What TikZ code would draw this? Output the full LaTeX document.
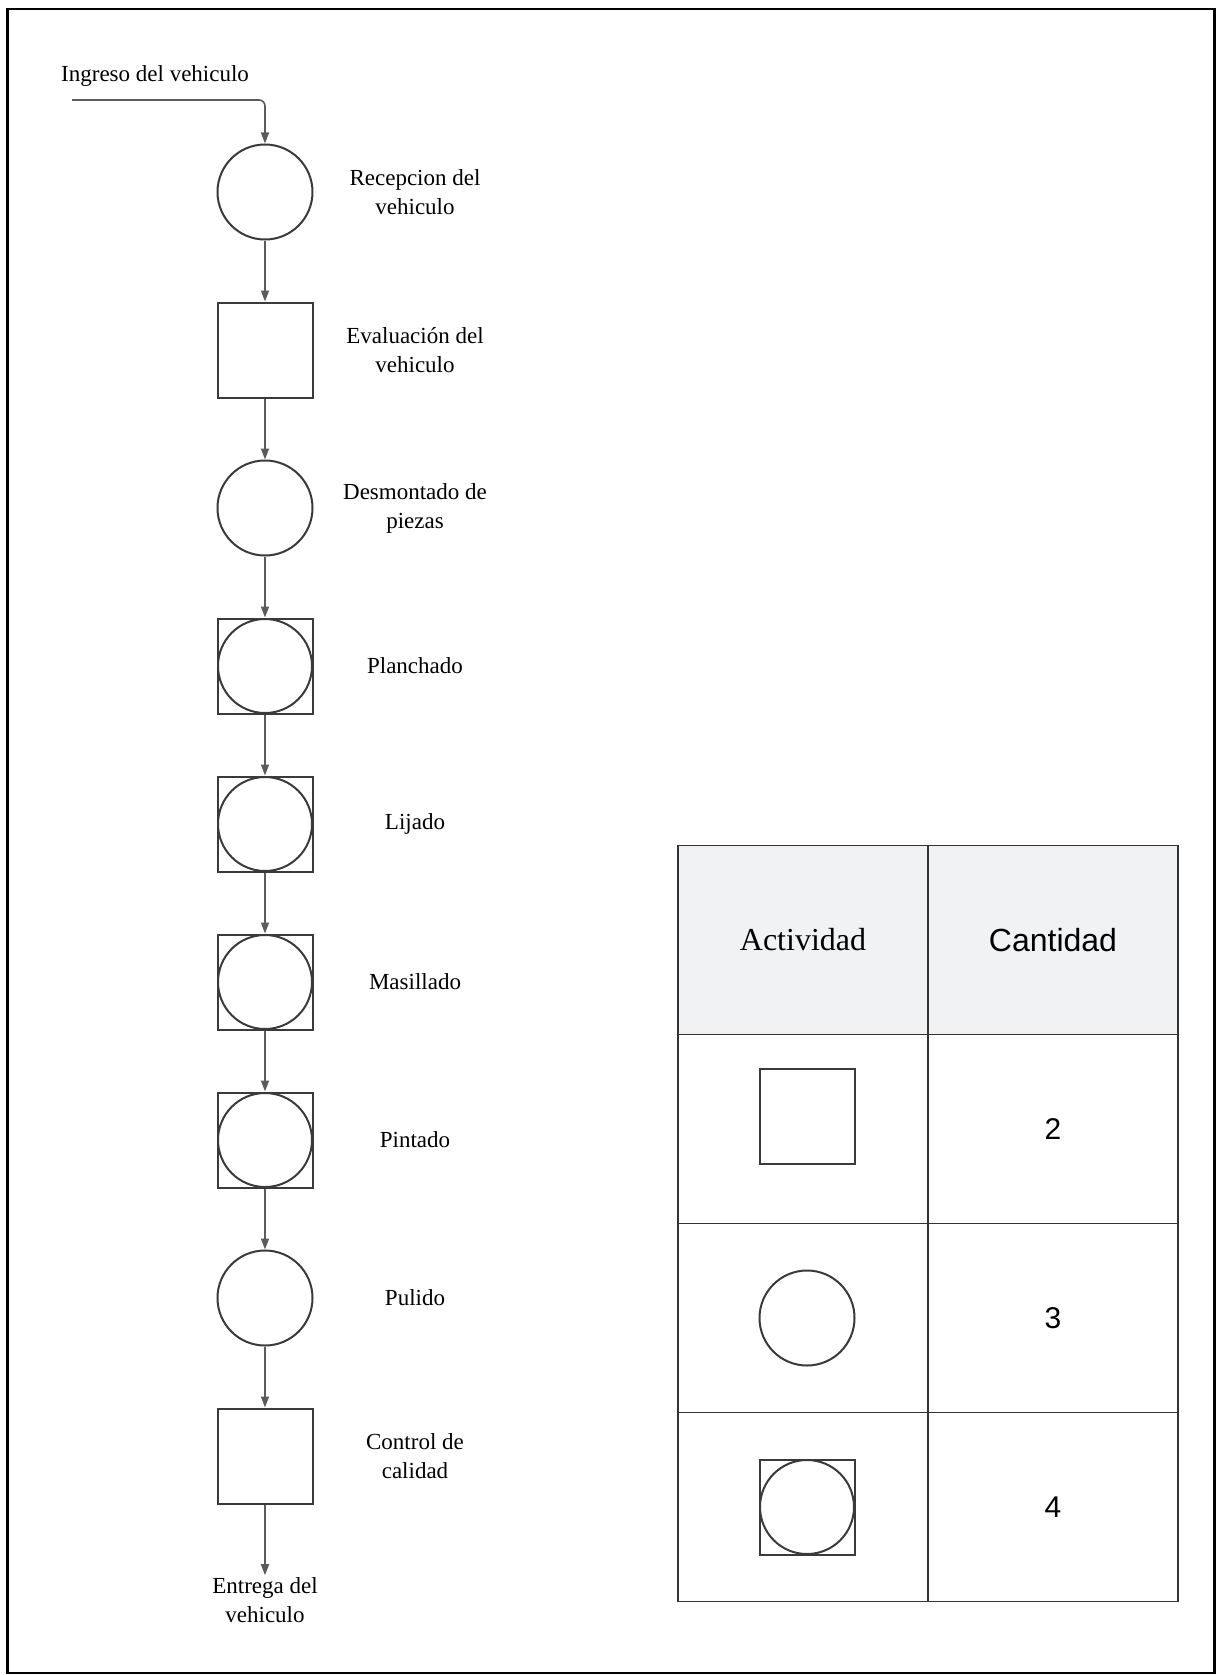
\documentclass[tikz,border=0pt]{standalone}
\usepackage{fontspec}
\setmainfont{Liberation Serif}
\newfontfamily\tablesans{Liberation Sans}
\usepackage{tikz}
\usetikzlibrary{arrows.meta, positioning}
\definecolor{flowgray}{HTML}{5B5B5B}
\definecolor{shapegray}{HTML}{3A3A3A}
\definecolor{headgray}{HTML}{F1F2F4}

\begin{document}
\begin{tikzpicture}[x=1pt, y=1pt, node distance=158pt,
    opcirc/.style={draw=shapegray, line width=2pt, circle, minimum size=95pt, inner sep=0pt},
    inspbox/.style={draw=shapegray, line width=2pt, rectangle, minimum size=95pt, inner sep=0pt},
    combbox/.style={inspbox, path picture={\draw[shapegray, line width=2pt] (path picture bounding box.center) circle (47pt);}},
    steplabel/.style={text centered, align=center, font=\fontsize{23}{29}\selectfont, inner sep=2pt},
    flow/.style={draw=flowgray, line width=1.6pt, -{Triangle[length=11pt, width=8pt]}},
    cell/.style={draw=black!80, line width=1.5pt, rectangle, minimum width=250pt, minimum height=189pt, inner sep=0pt, text centered},
    numtext/.style={font=\tablesans\fontsize{30}{36}\selectfont}]
    \useasboundingbox (0,0) rectangle (1217,-1675);
    \draw[line width=2.5pt] (7.5,-9) rectangle (1214.5,-1673);

    % entrada
    \node (ingreso) [anchor=base west, inner sep=0pt, font=\fontsize{23}{29}\selectfont] at (61,-82) {Ingreso del vehiculo};
    \coordinate (start) at (72,-100);

    % diagrama de proceso
    \node (recep) [opcirc] at (265,-192) {};
    \node (evalua) [inspbox, below of=recep] {};
    \node (desmon) [opcirc, below of=evalua] {};
    \node (planch) [combbox, below of=desmon] {};
    \node (lijado) [combbox, below of=planch] {};
    \node (masill) [combbox, below of=lijado] {};
    \node (pintado) [combbox, below of=masill] {};
    \node (pulido) [opcirc, below of=pintado] {};
    \node (control) [inspbox, below of=pulido] {};
    \node (entrega) [steplabel, node distance=144pt, below of=control] {Entrega del\\vehiculo};

    \node (lrecep) [steplabel, node distance=150pt, right of=recep] {Recepcion del\\vehiculo};
    \node (levalua) [steplabel, node distance=150pt, right of=evalua] {Evaluación del\\vehiculo};
    \node (ldesmon) [steplabel, node distance=150pt, right of=desmon] {Desmontado de\\piezas};
    \node (lplanch) [steplabel, node distance=150pt, right of=planch] {Planchado};
    \node (llijado) [steplabel, node distance=150pt, right of=lijado] {Lijado};
    \node (lmasill) [steplabel, node distance=150pt, right of=masill] {Masillado};
    \node (lpintado) [steplabel, node distance=150pt, right of=pintado] {Pintado};
    \node (lpulido) [steplabel, node distance=150pt, right of=pulido] {Pulido};
    \node (lcontrol) [steplabel, node distance=150pt, right of=control] {Control de\\calidad};

    \draw[flow, rounded corners=6pt] (start) -- (start -| recep) -- (recep);
    \foreach \a/\b in {recep/evalua, evalua/desmon, desmon/planch, planch/lijado, lijado/masill, masill/pintado, pintado/pulido, pulido/control, control/entrega}
        \draw[flow] (\a) -- (\b);

    % tabla resumen
    \node (hact) [cell, fill=headgray, font=\fontsize{32}{38}\selectfont] at (803,-940) {Actividad};
    \node (hcant) [cell, fill=headgray, font=\tablesans\fontsize{32}{38}\selectfont, node distance=250pt, right of=hact] {Cantidad};
    \node (ract1) [cell, node distance=189pt, below of=hact] {};
    \node (ract2) [cell, node distance=189pt, below of=ract1] {};
    \node (ract3) [cell, node distance=189pt, below of=ract2] {};
    \node (rcant1) [cell, numtext, node distance=250pt, right of=ract1] {2};
    \node (rcant2) [cell, numtext, node distance=250pt, right of=ract2] {3};
    \node (rcant3) [cell, numtext, node distance=250pt, right of=ract3] {4};

    \node (legsq) [inspbox, xshift=4pt, yshift=13pt] at (ract1) {};
    \node (legcirc) [opcirc, xshift=4pt] at (ract2) {};
    \node (legcomb) [combbox, xshift=4pt] at (ract3) {};
\end{tikzpicture}
\end{document}
